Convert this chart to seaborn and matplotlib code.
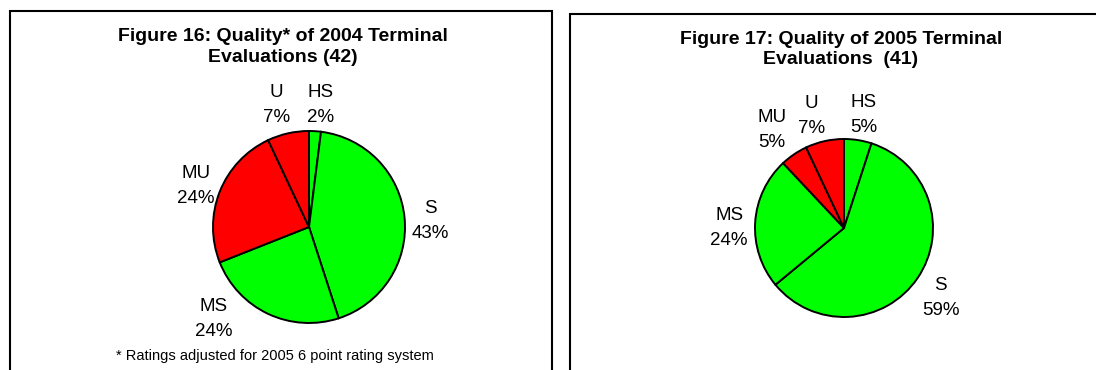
import numpy as np
import pandas as pd
import matplotlib
matplotlib.use("Agg")
import matplotlib.pyplot as plt
import seaborn as sns
from matplotlib.lines import Line2D

# ---------------- data ----------------
categories = ["HS", "S", "MS", "MU", "U"]
values_2004 = [2, 43, 24, 24, 7]
values_2005 = [5, 59, 24, 5, 7]
slice_colors = ["#00FF00", "#00FF00", "#00FF00", "#FF0000", "#FF0000"]
title_2004 = "Figure 16: Quality* of 2004 Terminal\nEvaluations (42)"
title_2005 = "Figure 17: Quality of 2005 Terminal\nEvaluations  (41)"
footnote_2004 = "* Ratings adjusted for 2005 6 point rating system"

# label placement (radial distance in radii, angular tweak in degrees)
lab_dist_2004 = [1.28, 1.27, 1.38, 1.25, 1.32]
lab_dang_2004 = [-1.6, -2.6, -20.7, 1.6, 2.4]
lab_dist_2005 = [1.29, 1.34, 1.29, 1.37, 1.31]
lab_dang_2005 = [-1.0, -1.6, 3.6, 2.1, 3.8]

sns.set_style("white")
plt.rcParams["font.family"] = ["Liberation Sans", "DejaVu Sans"]
plt.rcParams["text.color"] = "black"

W, H = 1096, 370
fig = plt.figure(figsize=(W / 100, H / 100), dpi=100)
fig.patch.set_facecolor("white")


def fx(px):
    return px / W


def fy(py):
    return 1 - py / H


# panel borders
lw_border = 1.5
fig.add_artist(Line2D([fx(10), fx(10), fx(552), fx(552)],
                      [fy(400), fy(11), fy(11), fy(400)],
                      color="black", lw=lw_border, solid_joinstyle="miter"))
fig.add_artist(Line2D([fx(570), fx(570), fx(1100)],
                      [fy(400), fy(13.5), fy(13.5)],
                      color="black", lw=lw_border, solid_joinstyle="miter"))


def draw_pie(cx, cy, R, values, dists, dangs):
    k = 1.5
    ax = fig.add_axes([fx(cx - k * R), fy(cy + k * R), 2 * k * R / W, 2 * k * R / H])
    df = pd.DataFrame({"cat": categories, "val": values})
    wedges, _ = ax.pie(df["val"], colors=slice_colors, startangle=90,
                       counterclock=False, radius=1,
                       wedgeprops=dict(edgecolor="black", linewidth=1.4))
    for w, cat, v, d, da in zip(wedges, df["cat"], df["val"], dists, dangs):
        mid = np.deg2rad((w.theta1 + w.theta2) / 2 + da)
        ax.text(d * np.cos(mid), d * np.sin(mid), f"{cat}\n{v}%",
                ha="center", va="center", fontsize=13.5, linespacing=1.62,
                color="black", clip_on=False)
    ax.set_xlim(-k, k)
    ax.set_ylim(-k, k)
    ax.set_aspect("equal")
    ax.axis("off")
    return ax


draw_pie(309, 227, 96, values_2004, lab_dist_2004, lab_dang_2004)
draw_pie(844, 228, 89, values_2005, lab_dist_2005, lab_dang_2005)

fig.text(fx(283), fy(47), title_2004, ha="center", va="center",
         fontsize=14, fontweight="bold", linespacing=1.25, color="black")
fig.text(fx(841), fy(49.5), title_2005, ha="center", va="center",
         fontsize=14, fontweight="bold", linespacing=1.25, color="black")
fig.text(fx(275), fy(356), footnote_2004, ha="center", va="center",
         fontsize=10.5, color="black")

fig.savefig("out.png", dpi=100)
